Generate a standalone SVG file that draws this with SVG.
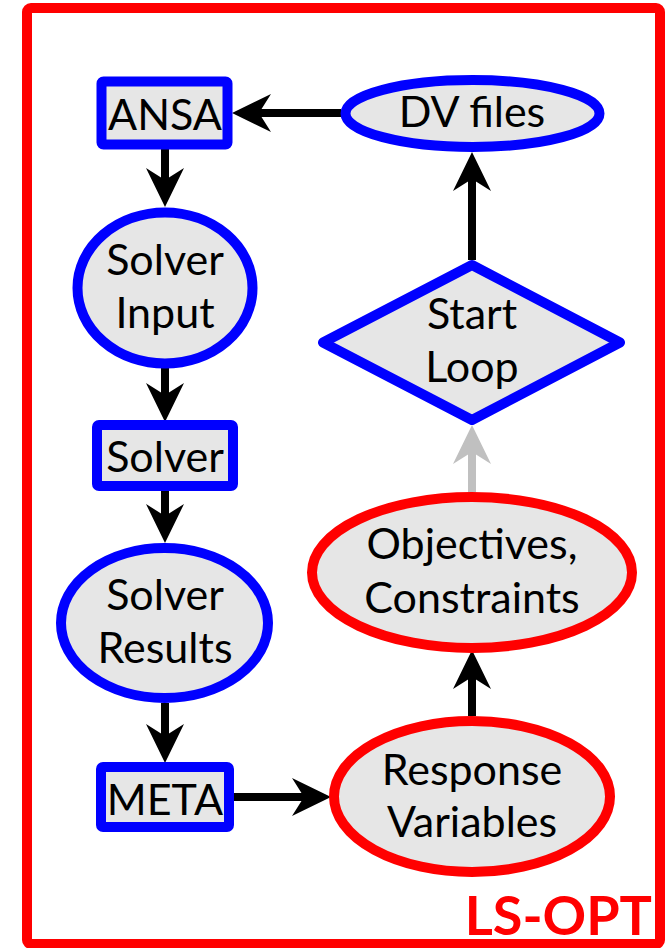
<svg xmlns="http://www.w3.org/2000/svg" width="668" height="948" viewBox="0 0 668 948">
<style>
.bn{fill:#e6e6e6;stroke:#0000ff;stroke-width:10;stroke-linejoin:round}
.rn{fill:#e6e6e6;stroke:#ff0000;stroke-width:10}
.t{font-family:Lato,"Open Sans","Liberation Sans",sans-serif;font-size:43px;fill:#000;text-anchor:middle}
.e{fill:none;stroke:#000;stroke-width:8;marker-end:url(#ah)}
.g{fill:none;stroke:#c0c0c0;stroke-width:8;marker-end:url(#ahg)}
</style>
<defs>
<marker id="ah" viewBox="0 -20 40 40" refX="12" refY="0" markerWidth="40" markerHeight="40" markerUnits="userSpaceOnUse" orient="auto">
<path d="M39,0 L0,-19 L12,0 L0,19 Z" fill="#000"/>
</marker>
<marker id="ahg" viewBox="0 -20 40 40" refX="12" refY="0" markerWidth="40" markerHeight="40" markerUnits="userSpaceOnUse" orient="auto">
<path d="M39,0 L0,-19 L12,0 L0,19 Z" fill="#c0c0c0"/>
</marker>
</defs>
<rect id="frame" x="27" y="8" width="633" height="936" rx="4" fill="none" stroke="#ff0000" stroke-width="10"/>
<g id="connectors">
<path class="e" d="M341,113 L259,113"/>
<path class="e" d="M165,149 L165,180"/>
<path class="e" d="M165,368 L165,395"/>
<path class="e" d="M165,491 L165,516"/>
<path class="e" d="M165,703 L165,736"/>
<path class="e" d="M234,797 L304,797"/>
<path class="e" d="M472,716 L472,677"/>
<path class="g" d="M472,492 L472,452"/>
<path class="e" d="M472,260 L472,179"/>
</g>
<g id="ansa"><rect class="bn" x="101.5" y="81.5" width="126" height="63" rx="2"/><text class="t" x="165" y="130">ANSA</text></g>
<g id="dvfiles"><ellipse class="bn" cx="472.5" cy="113.5" rx="127" ry="33.5"/><text class="t" x="472" y="127">DV files</text></g>
<g id="solverinput"><ellipse class="bn" cx="165" cy="288" rx="87.5" ry="75.5"/><text class="t" x="165" y="275">Solver</text><text class="t" x="165" y="328">Input</text></g>
<g id="solver"><rect class="bn" x="97" y="425" width="136" height="61" rx="2"/><text class="t" x="165" y="472">Solver</text></g>
<g id="solverresults"><ellipse class="bn" cx="164.5" cy="623" rx="103.5" ry="75"/><text class="t" x="165" y="610">Solver</text><text class="t" x="165" y="663">Results</text></g>
<g id="meta"><rect class="bn" x="101" y="767" width="128" height="60" rx="2"/><text class="t" x="165" y="815">META</text></g>
<g id="startloop"><path class="bn" d="M472,265 L620,342.5 L472,420 L323,342.5 Z"/><text class="t" x="472" y="329">Start</text><text class="t" x="472" y="382">Loop</text></g>
<g id="objectives"><ellipse class="rn" cx="472" cy="572.5" rx="160" ry="75.5"/><text class="t" x="472" y="559">Objectives,</text><text class="t" x="472" y="613">Constraints</text></g>
<g id="response"><ellipse class="rn" cx="472" cy="796.5" rx="138" ry="75.5"/><text class="t" x="472" y="785">Response</text><text class="t" x="472" y="837">Variables</text></g>
<text x="652" y="935" font-family="Lato,'Open Sans','Liberation Sans',sans-serif" font-size="54" font-weight="bold" fill="#ff0000" text-anchor="end">LS-OPT</text>
</svg>
